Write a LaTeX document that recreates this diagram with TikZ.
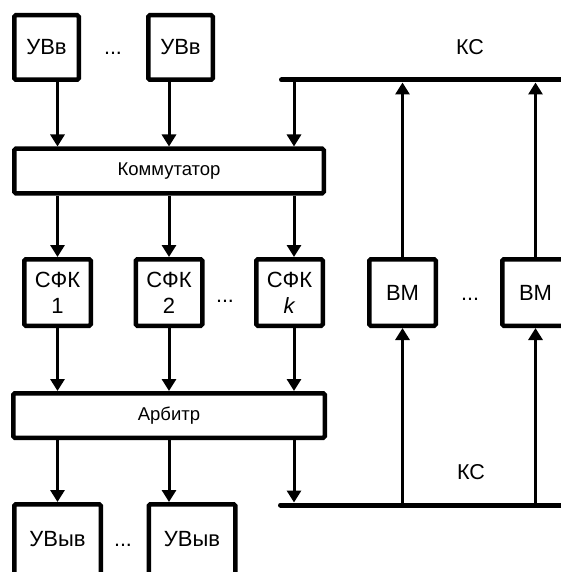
\documentclass[tikz,border=0pt]{standalone}
\usepackage{fontspec}
\setmainfont{Liberation Sans}
\usetikzlibrary{arrows.meta}

\begin{document}
\begin{tikzpicture}[x=1pt, y=-1pt,
  box/.style={draw, line width=4.5pt, rounded corners=1.5pt, inner sep=0pt,
    align=center, font=\fontsize{22}{26}\selectfont},
  arr/.style={line width=3pt, -{Triangle[width=14pt,length=12pt]}},
  bus/.style={line width=5pt, line cap=round},
  lbl/.style={font=\fontsize{21.5}{25}\selectfont, inner sep=0pt}]
  \useasboundingbox (0,0) rectangle (561,572);

  % input devices
  \node[box, minimum size=64.5pt] (in1) at (46.5,47.5) {УВв};
  \node[box, minimum size=64.5pt] (in2) at (180.5,47.5) {УВв};
  \node[lbl, anchor=base] (din) at (113,55) {...};

  % switch
  \node[box, minimum width=309.5pt, minimum height=44.5pt,
    font=\fontsize{18.5}{22}\selectfont] (kom) at (169,171) {Коммутатор};

  % functional blocks
  \node[box, minimum size=66.5pt] (s1) at (57.5,292.5) {СФК\\1};
  \node[box, minimum size=66.5pt] (s2) at (169,292.5) {СФК\\2};
  \node[box, minimum size=66.5pt] (s3) at (289.5,292.5) {СФК\\\textit{k}};
  \node[lbl, anchor=base] (ds) at (225,302) {...};

  % computing modules
  \node[box, minimum size=66.5pt] (bm1) at (402.5,292.5) {ВМ};
  \node[box, minimum size=66.5pt] (bm2) at (535.5,292.5) {ВМ};
  \node[lbl, anchor=base] (dbm) at (470,300) {...};

  % arbiter
  \node[box, minimum width=311.5pt, minimum height=44.5pt,
    font=\fontsize{18.5}{22}\selectfont] (arb) at (169,415.5) {Арбитр};

  % output devices
  \node[box, minimum width=86.5pt, minimum height=70.5pt] (out1) at (57.5,539.5) {УВыв};
  \node[box, minimum width=86.5pt, minimum height=70.5pt] (out2) at (192,539.5) {УВыв};
  \node[lbl, anchor=base] (dout) at (123,546) {...};

  % buses
  \coordinate (ks1) at (281.5,80);
  \coordinate (ks1e) at (575,80);
  \coordinate (ks2) at (280.5,505);
  \coordinate (ks2e) at (575,505);
  \coordinate (tap) at (294,80);
  \draw[bus] (ks1) -- (ks1e);
  \draw[bus] (ks2) -- (ks2e);
  \node[lbl] (ks1l) at (470,47) {КС};
  \node[lbl] (ks2l) at (471,472) {КС};

  % into the switch
  \draw[arr] (in1.south -| s1) -- (kom.north -| s1);
  \draw[arr] (in2.south -| s2) -- (kom.north -| s2);
  \draw[arr] (tap) -- (kom.north -| tap);

  % switch to blocks
  \draw[arr] (kom.south -| s1) -- (s1.north);
  \draw[arr] (kom.south -| s2) -- (s2.north);
  \draw[arr] (kom.south -| tap) -- (s3.north -| tap);

  % blocks to arbiter
  \draw[arr] (s1.south) -- (arb.north -| s1);
  \draw[arr] (s2.south) -- (arb.north -| s2);
  \draw[arr] (s3.south -| tap) -- (arb.north -| tap);

  % arbiter out
  \draw[arr] (arb.south -| s1) -- (out1.north -| s1);
  \draw[arr] (arb.south -| s2) -- (out2.north -| s2);
  \draw[arr, shorten >=2.5pt] (arb.south -| tap) -- (tap |- ks2);

  % modules and buses
  \draw[arr, shorten >=2.5pt] (bm1.north) -- (bm1.north |- ks1);
  \draw[arr, shorten >=2.5pt] (bm2.north) -- (bm2.north |- ks1);
  \draw[arr] (bm1.south |- ks2) -- (bm1.south);
  \draw[arr] (bm2.south |- ks2) -- (bm2.south);
\end{tikzpicture}
\end{document}
